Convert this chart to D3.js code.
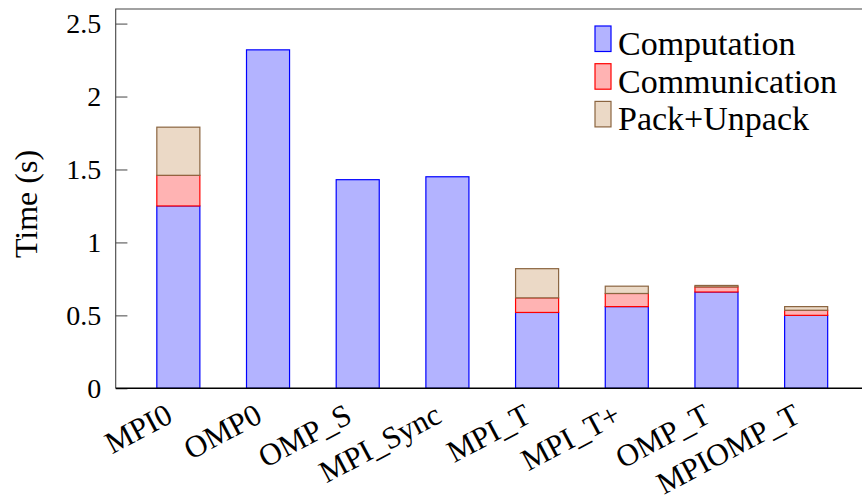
<!DOCTYPE html>
<html>
<head>
<meta charset="utf-8">
<script src="https://cdn.jsdelivr.net/npm/d3@7"></script>
<style>
  body { margin: 0; background: #fff; }
  text { font-family: "Liberation Serif", serif; fill: #000; }
</style>
</head>
<body>
<svg></svg>
<script>
// data
const categories = ['MPI0', 'OMP0', 'OMP_S', 'MPI_Sync', 'MPI_T', 'MPI_T+', 'OMP_T', 'MPIOMP_T'];
const computation = [1.25, 2.32, 1.43, 1.45, 0.52, 0.56, 0.66, 0.50];
const communication = [0.21, 0, 0, 0, 0.10, 0.09, 0.035, 0.035];
const packUnpack = [0.33, 0, 0, 0, 0.20, 0.05, 0.01, 0.025];
const seriesNames = ['Computation', 'Communication', 'Pack+Unpack'];
const yTicks = [0, 0.5, 1, 1.5, 2, 2.5];
const yTickLabels = ['0', '0.5', '1', '1.5', '2', '2.5'];

const width = 862, height = 500;
const font = '"Liberation Serif", serif';
const svg = d3.select('svg')
  .attr('width', width)
  .attr('height', height);

const plotLeft = 115.7, plotTop = 9, plotBottom = 388.3;

const x = d3.scaleBand()
  .domain(categories)
  .range([133.5, 851])
  .paddingInner(0.52)
  .paddingOuter(0.26);
const y = d3.scaleLinear().domain([0, 2.6]).range([plotBottom, plotTop]);

const fills = ['#b3b3ff', '#ffb3b3', '#ebd9c6'];
const strokes = ['#0000ff', '#ff0000', '#8b6540'];

// rows for d3.stack
const rows = categories.map((c, i) => ({
  cat: c,
  'Computation': computation[i],
  'Communication': communication[i],
  'Pack+Unpack': packUnpack[i]
}));
const stacked = d3.stack().keys(seriesNames)(rows);

const layers = svg.selectAll('g.layer')
  .data(stacked)
  .enter().append('g')
  .attr('class', 'layer')
  .attr('fill', (d, i) => fills[i])
  .attr('stroke', (d, i) => strokes[i])
  .attr('stroke-width', 1.2);

layers.selectAll('rect')
  .data(d => d.filter(s => s[1] - s[0] > 0))
  .enter().append('rect')
  .attr('x', d => x(d.data.cat))
  .attr('width', x.bandwidth())
  .attr('y', d => y(d[1]))
  .attr('height', d => y(d[0]) - y(d[1]));

// y axis
const yAxis = svg.append('g')
  .attr('transform', `translate(${plotLeft},0)`)
  .call(d3.axisLeft(y)
    .tickValues(yTicks)
    .tickFormat((d, i) => yTickLabels[i])
    .tickSizeInner(-11.7)
    .tickSizeOuter(0)
    .tickPadding(14.5));
yAxis.select('.domain').remove();
yAxis.selectAll('line').attr('stroke', '#555').attr('stroke-width', 1.1);
yAxis.selectAll('text')
  .attr('font-size', 28)
  .attr('font-family', font)
  .attr('fill', '#000');

// x axis labels, rotated, anchored at their end
const xAxis = svg.append('g')
  .attr('transform', `translate(0,${plotBottom})`)
  .call(d3.axisBottom(x).tickSize(0));
xAxis.select('.domain').remove();
xAxis.selectAll('text')
  .attr('font-size', 31)
  .attr('font-family', font)
  .attr('fill', '#000')
  .attr('text-anchor', 'end')
  .attr('x', 0)
  .attr('y', 0)
  .attr('dy', 0)
  .attr('transform', 'translate(-4,33) rotate(-28)');

// frame
svg.append('path')
  .attr('d', `M${plotLeft},${plotBottom}V${plotTop}H${width + 5}`)
  .attr('fill', 'none')
  .attr('stroke', '#444')
  .attr('stroke-width', 1.1);
svg.append('line')
  .attr('x1', plotLeft).attr('x2', width + 5)
  .attr('y1', plotBottom).attr('y2', plotBottom)
  .attr('stroke', '#000')
  .attr('stroke-width', 1.6);

// y title
svg.append('text')
  .attr('transform', 'translate(37,204) rotate(-90)')
  .attr('text-anchor', 'middle')
  .attr('font-size', 32)
  .text('Time (s)');

// legend
const legend = svg.selectAll('g.legend')
  .data(seriesNames)
  .enter().append('g')
  .attr('class', 'legend')
  .attr('transform', (d, i) => `translate(595,${26 + i * 37.7})`);
legend.append('rect')
  .attr('width', 16)
  .attr('height', 25.5)
  .attr('fill', (d, i) => fills[i])
  .attr('stroke', (d, i) => strokes[i])
  .attr('stroke-width', 1.2);
legend.append('text')
  .attr('x', 23)
  .attr('y', 29)
  .attr('font-size', 34)
  .text(d => d);
</script>
</body>
</html>
